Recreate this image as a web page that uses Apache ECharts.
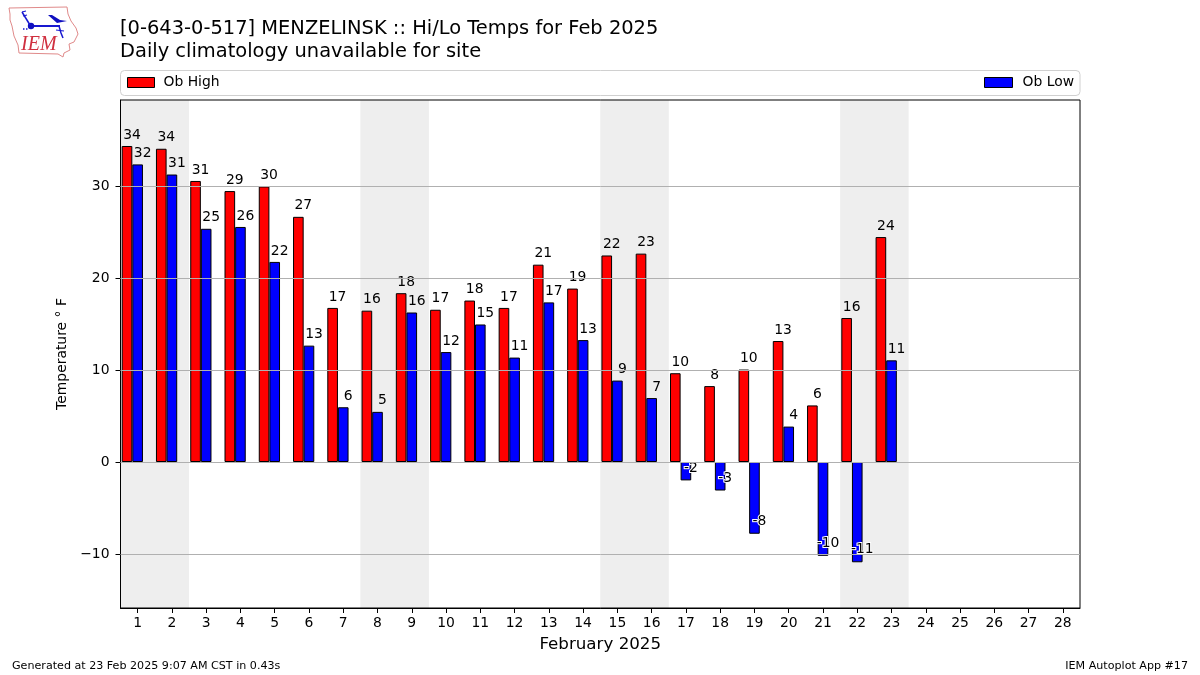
<!DOCTYPE html>
<html><head><meta charset="utf-8">
<style>html,body{margin:0;padding:0;background:#fff}#c{width:1200px;height:675px}</style>
<script src="https://cdn.jsdelivr.net/npm/echarts@6/dist/echarts.min.js"></script>
</head><body><div id="c"></div>
<script>
const days = ['1','2','3','4','5','6','7','8','9','10','11','12','13','14','15','16','17','18','19','20','21','22','23','24','25','26','27','28'];
const obHigh = [34.35,34.05,30.55,29.45,29.95,26.65,16.75,16.45,18.35,16.55,17.55,16.75,21.45,18.85,22.45,22.65,9.65,8.25,10.05,13.15,6.15,15.65,24.45];
const obLow = [32.35,31.25,25.35,25.55,21.75,12.65,5.95,5.45,16.25,11.95,14.95,11.35,17.35,13.25,8.85,6.95,-2.0,-3.1,-7.8,3.85,-10.2,-10.9,11.05];
const highLabels = [34,34,31,29,30,27,17,16,18,17,18,17,21,19,22,23,10,8,10,13,6,16,24];
const lowLabels = [32,31,25,26,22,13,6,5,16,12,15,11,17,13,9,7,-2,-3,-8,4,-10,-11,11];
const weekends = [[0.5,2.5],[7.5,9.5],[14.5,16.5],[21.5,23.5]];
const yTicks = [-10,0,10,20,30];
const FONT = 'DejaVu Sans';

function barData(values, labels){
  return values.map((v,i)=>({
    value:v,
    label:{
      show:true,
      formatter:String(labels[i]),
      position: v<0 ? 'insideBottom' : 'top',
      distance: v<0 ? 5.5 : 4,
      offset:[5,0],
      color:'#000',
      fontFamily:FONT,
      fontSize:13.9,
      textBorderColor:'#fff',
      textBorderWidth: v<0 ? 2 : 0
    }
  }));
}
const chart = echarts.init(document.getElementById('c'),null,{renderer:'canvas'});
const legendBase = {fontSize:13.9,color:'#000',fontFamily:FONT};
const option = {
  animation:false,
  backgroundColor:'#fff',
  textStyle:{fontFamily:FONT},
  title:[
    {text:'[0-643-0-517] MENZELINSK :: Hi/Lo Temps for Feb 2025',left:120,top:19,padding:0,textStyle:{fontSize:19.45,fontWeight:'normal',color:'#000',fontFamily:FONT}},
    {text:'Daily climatology unavailable for site',left:120,top:42,padding:0,textStyle:{fontSize:19.45,fontWeight:'normal',color:'#000',fontFamily:FONT}},
    {text:'Generated at 23 Feb 2025 9:07 AM CST in 0.43s',left:12,top:661,padding:0,textStyle:{fontSize:11.12,fontWeight:'normal',color:'#000',fontFamily:FONT}},
    {text:'IEM Autoplot App #17',right:12,top:661,padding:0,textStyle:{fontSize:11.12,fontWeight:'normal',color:'#000',fontFamily:FONT}}
  ],
  legend:[
    {data:['Ob High'],left:127,top:75.5,padding:0,itemWidth:27,itemHeight:10,icon:'rect',itemStyle:{borderColor:'#000',borderWidth:1},textStyle:Object.assign({padding:[0,0,0,4]},legendBase)},
    {data:['Ob Low'],left:984,top:75.5,padding:0,itemWidth:28,itemHeight:10,icon:'rect',itemStyle:{borderColor:'#000',borderWidth:1},textStyle:Object.assign({padding:[0,0,0,5]},legendBase)}
  ],
  grid:{left:120.5,right:120,top:100,bottom:67,containLabel:false,show:true,backgroundColor:'transparent',borderColor:'#000',borderWidth:1,z:5},
  xAxis:[
    {type:'category',data:days,boundaryGap:true,
     name:'February 2025',nameLocation:'middle',nameGap:28,
     nameTextStyle:{fontSize:16.7,color:'#000',fontFamily:FONT},
     axisLine:{onZero:false,show:true,lineStyle:{color:'#000',width:1}},
     axisTick:{show:true,alignWithLabel:true,length:5,lineStyle:{color:'#000',width:1}},
     axisLabel:{show:true,interval:0,margin:8,color:'#000',fontSize:13.9,fontFamily:FONT},
     splitLine:{show:false}},
    {type:'value',min:0.5,max:28.5,show:false,splitLine:{show:false}}
  ],
  yAxis:{type:'value',min:-15.87,max:39.35,
    name:'Temperature ° F',nameLocation:'middle',nameGap:49,
    nameTextStyle:{fontSize:13.9,color:'#000',fontFamily:FONT},
    axisLine:{show:true,lineStyle:{color:'#000',width:1}},
    axisTick:{show:true,length:5,lineStyle:{color:'#000',width:1},customValues:yTicks},
    axisLabel:{show:true,margin:11,color:'#000',fontSize:13.9,fontFamily:FONT,customValues:yTicks,
      formatter:v=>String(v).replace('-','\u2212')},
    splitLine:{show:false}},
  series:[
    {name:'shade',type:'line',xAxisIndex:1,data:[],silent:true,z:0,
     markArea:{silent:true,itemStyle:{color:'#eeeeee'},data:weekends.map(w=>[{xAxis:w[0]},{xAxis:w[1]}])},
     markLine:{silent:true,symbol:'none',label:{show:false},lineStyle:{color:'#b0b0b0',width:1,type:'solid'},data:yTicks.map(t=>({yAxis:t}))}},
    {name:'Ob High',type:'bar',data:barData(obHigh,highLabels),barWidth:'31%',barGap:'0%',z:3,
     itemStyle:{color:'#ff0000',borderColor:'#000',borderWidth:1}},
    {name:'Ob Low',type:'bar',data:barData(obLow,lowLabels),barWidth:'31%',barGap:'0%',z:3,
     itemStyle:{color:'#0000ff',borderColor:'#000',borderWidth:1}},
    {name:'Climatology',type:'bar',data:[],barWidth:'31%',barGap:'0%',z:3}
  ],
  graphic:[
    {type:'rect',z:-1,shape:{x:120.5,y:70.5,width:959.5,height:25,r:4},style:{fill:'#fff',stroke:'#d0d0d0',lineWidth:1}},
    {type:'polygon',z:1,shape:{points:[[9,8],[67,7],[68,14],[71,21],[76,28],[78,34],[74,42],[69,44],[70,50],[64,53],[63,57],[58,54],[19,53],[18,45],[14,36],[12,26],[10,20],[10,14]]},style:{fill:'#fff',stroke:'#e08a8a',lineWidth:1}},
    {type:'polyline',z:2,shape:{points:[[31,26],[60,26]]},style:{fill:'none',stroke:'#1818d0',lineWidth:2}},
    {type:'circle',z:2,shape:{cx:31,cy:26,r:3.2},style:{fill:'#1010c0'}},
    {type:'polyline',z:2,shape:{points:[[22,12],[30,25]]},style:{fill:'none',stroke:'#1818d0',lineWidth:1.5}},
    {type:'polyline',z:2,shape:{points:[[22,12],[26,11]]},style:{fill:'none',stroke:'#1818d0',lineWidth:1.2}},
    {type:'polyline',z:2,shape:{points:[[23,16],[27,15]]},style:{fill:'none',stroke:'#1818d0',lineWidth:1.2}},
    {type:'polygon',z:2,shape:{points:[[48,15],[52,15],[60,20],[67,21],[57,23]]},style:{fill:'#1010c0'}},
    {type:'polyline',z:2,shape:{points:[[59,26],[61,33],[63,38]]},style:{fill:'none',stroke:'#1818d0',lineWidth:1.5}},
    {type:'polyline',z:2,shape:{points:[[56,30],[64,31]]},style:{fill:'none',stroke:'#1818d0',lineWidth:1.2}},
    {type:'polyline',z:2,shape:{points:[[23,29],[28,29]]},style:{fill:'none',stroke:'#1818d0',lineWidth:1.5,lineDash:[1.5,1.5]}},
    {type:'text',z:2,left:21,top:35,style:{text:'IEM',fill:'#d03040',font:'italic 20px "Liberation Serif"'}}
  ]
};
chart.setOption(option);
</script></body></html>
